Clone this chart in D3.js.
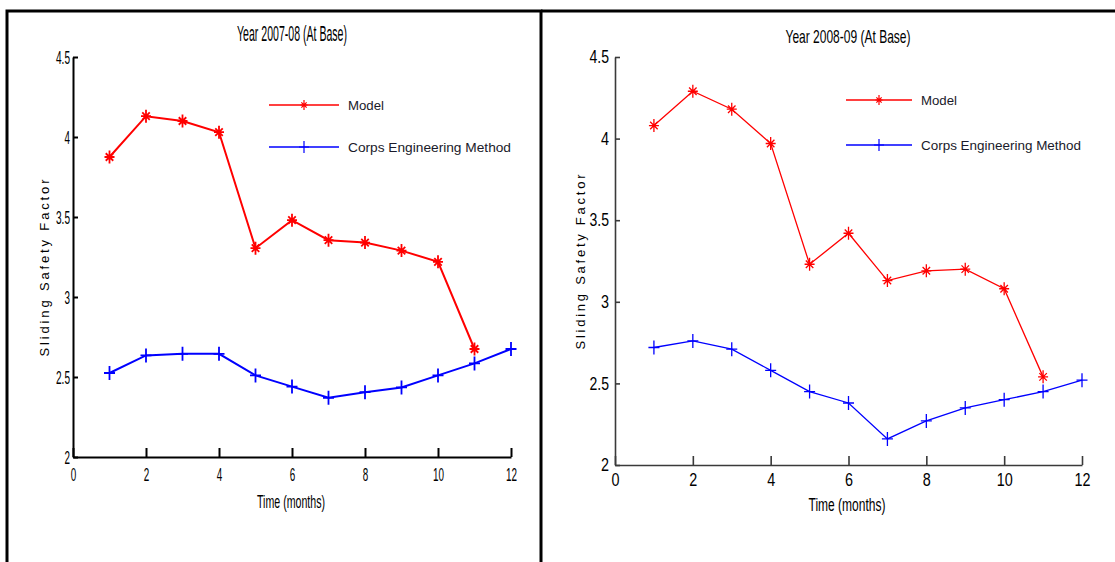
<!DOCTYPE html>
<html><head><meta charset="utf-8">
<script src="https://cdn.jsdelivr.net/npm/d3@7"></script>
<style>body{margin:0;background:#fff;} svg{display:block}</style>
</head><body><svg id="c" width="1115" height="562"></svg>
<script>
// ---- data ----
const months = [1,2,3,4,5,6,7,8,9,10,11,12];
const model0708 = [3.875,4.13,4.10,4.03,3.305,3.48,3.355,3.34,3.29,3.22,2.675];
const corps0708 = [2.525,2.635,2.645,2.645,2.51,2.44,2.37,2.405,2.435,2.51,2.585,2.675];
const model0809 = [4.08,4.29,4.18,3.97,3.23,3.42,3.13,3.19,3.20,3.08,2.54];
const corps0809 = [2.72,2.76,2.71,2.58,2.45,2.38,2.16,2.27,2.35,2.40,2.45,2.52];
const xTicks = [0,2,4,6,8,10,12];
const yTicks = [2,2.5,3,3.5,4,4.5];
const titles = ["Year 2007-08 (At Base)", "Year 2008-09 (At Base)"];
const seriesNames = ["Model", "Corps Engineering Method"];
const xLabel = "Time (months)";
const yLabel = "Sliding Safety Factor";

const svg = d3.select("#c");
const NARROW = "'Liberation Sans Narrow','Arial Narrow','Liberation Sans',Arial,sans-serif";
const SANS = "'Liberation Sans',Arial,sans-serif";

// panel frames
svg.append("rect").attr("x",7).attr("y",11).attr("width",534).attr("height",580)
  .attr("fill","none").attr("stroke","#000").attr("stroke-width",3);
svg.append("line").attr("x1",541).attr("x2",1120).attr("y1",11).attr("y2",11)
  .attr("stroke","#000").attr("stroke-width",3);

function starPath(w,h){
  const d = w*0.75;
  return `M0,${-h}L0,${h}M${-w},0L${w},0M${-d},${-d}L${d},${d}M${-d},${d}L${d},${-d}`;
}
function plusPath(w,h){ return `M0,${-h}L0,${h}M${-w},0L${w},0`; }

function panel(o){
  const g = svg.append("g");
  const x = d3.scaleLinear().domain([0,12]).range([o.x0,o.x1]);
  const y = d3.scaleLinear().domain([2,4.5]).range([o.y0,o.y1]);

  const xa = g.append("g").attr("transform",`translate(0,${o.y0})`)
    .call(d3.axisBottom(x).tickValues(xTicks).tickSizeInner(-9).tickSizeOuter(0).tickPadding(o.xpad).tickFormat(d=>String(d)));
  const ya = g.append("g").attr("transform",`translate(${o.x0},0)`)
    .call(d3.axisLeft(y).tickValues(yTicks).tickSizeInner(-5).tickSizeOuter(0).tickPadding(o.ypad).tickFormat(d=>String(d)));
  [xa,ya].forEach(a=>{
    a.select(".domain").attr("stroke",o.axisColor).attr("stroke-width",o.axisW);
    a.selectAll(".tick line").attr("stroke",o.axisColor).attr("stroke-width",o.axisW);
    a.selectAll(".tick text").attr("fill","#000").style("font-family",NARROW).style("font-size",o.tickFs+"px")
      .attr("lengthAdjust","spacingAndGlyphs")
      .attr("textLength",d=>{const s=String(d); let L=0; for(const ch of s){L += ch==="."?o.dotW:o.digW;} return L;});
  });

  // title
  g.append("text").attr("x",o.tx).attr("y",o.ty).attr("text-anchor","middle")
    .style("font-family",NARROW).style("font-size",o.tfs+"px").attr("fill","#000")
    .attr("textLength",o.tlen).attr("lengthAdjust","spacingAndGlyphs").text(o.title);
  // x label
  g.append("text").attr("x",o.xlx).attr("y",o.xly).attr("text-anchor","middle")
    .style("font-family",NARROW).style("font-size",o.xlfs+"px").attr("fill","#000")
    .attr("textLength",o.xllen).attr("lengthAdjust","spacingAndGlyphs").text(xLabel);
  // y label
  g.append("text").attr("transform",`translate(${o.ylx},${o.yly}) rotate(-90)`).attr("text-anchor","middle")
    .style("font-family",SANS).style("font-size","13px").attr("fill","#000")
    .attr("textLength",o.yllen).attr("lengthAdjust","spacing").text(yLabel);

  const line = d3.line().x((d,i)=>x(months[i])).y(d=>y(d));
  // series
  g.append("path").datum(o.model).attr("d",line).attr("fill","none").attr("stroke","#ff0000").attr("stroke-width",o.lineW);
  g.append("path").datum(o.corps).attr("d",line).attr("fill","none").attr("stroke","#0000ff").attr("stroke-width",o.lineW);
  g.selectAll(".ms").data(o.model).join("path").attr("class","ms")
    .attr("transform",(d,i)=>`translate(${x(months[i])},${y(d)})`)
    .attr("d",starPath(5,6.5)).attr("fill","none").attr("stroke","#ff0000").attr("stroke-width",o.markW);
  g.selectAll(".mp").data(o.corps).join("path").attr("class","mp")
    .attr("transform",(d,i)=>`translate(${x(months[i])},${y(d)})`)
    .attr("d",plusPath(5.5,7)).attr("fill","none").attr("stroke","#0000ff").attr("stroke-width",o.markW);

  // legend
  const leg = [{c:"#ff0000",m:starPath(3.5,5),y:o.lgy[0],name:seriesNames[0],len:o.lglen[0]},
               {c:"#0000ff",m:plusPath(5,6),y:o.lgy[1],name:seriesNames[1],len:o.lglen[1]}];
  leg.forEach(l=>{
    g.append("line").attr("x1",o.lgx0).attr("x2",o.lgx1).attr("y1",l.y).attr("y2",l.y).attr("stroke",l.c).attr("stroke-width",1.3);
    g.append("path").attr("transform",`translate(${(o.lgx0+o.lgx1)/2},${l.y})`).attr("d",l.m)
      .attr("fill","none").attr("stroke",l.c).attr("stroke-width",1.2);
    g.append("text").attr("x",o.lgtx).attr("y",l.y+4.5).style("font-family",SANS).style("font-size","13px")
      .attr("fill","#1a1a2a").attr("textLength",l.len).attr("lengthAdjust","spacingAndGlyphs").text(l.name);
  });
}

panel({x0:73,x1:511,y0:457,y1:57,axisColor:"#000",axisW:2,xpad:11,ypad:3,digW:5.5,dotW:3,tickFs:19,
  title:titles[0],tx:292,ty:41,tfs:22,tlen:110,xlx:291,xly:508,xlfs:19,xllen:68,ylx:49,yly:268,yllen:177,
  model:model0708,corps:corps0708,lineW:2,markW:1.8,
  lgx0:269,lgx1:339,lgy:[105,147],lgtx:348,lglen:[36,163]});

panel({x0:615,x1:1082,y0:465,y1:57,axisColor:"#3a3a3a",axisW:1.6,xpad:8.5,ypad:6,digW:8,dotW:3.5,tickFs:18,
  title:titles[1],tx:848,ty:43,tfs:19,tlen:125,xlx:847,xly:511,xlfs:18,xllen:77,ylx:585,yly:262,yllen:175,
  model:model0809,corps:corps0809,lineW:1.3,markW:1.3,
  lgx0:846,lgx1:912,lgy:[100,145],lgtx:921,lglen:[36,160]});
</script></body></html>
